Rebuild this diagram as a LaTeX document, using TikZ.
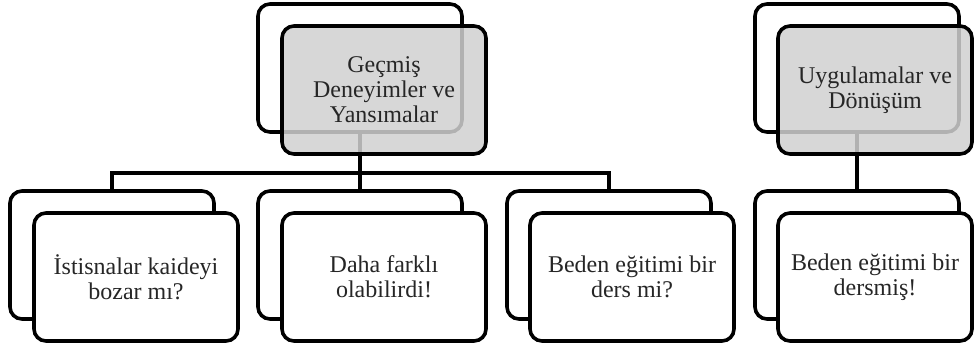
\documentclass[tikz,border=0pt]{standalone}
\usepackage{fontspec}
\setmainfont{Liberation Serif}
\begin{document}
\begin{tikzpicture}[x=1pt,y=-1pt,
  card/.style={draw=black, line width=3.6pt, rounded corners=12pt, rectangle,
    inner sep=0pt, minimum width=204pt, minimum height=128pt, fill=white},
  frontgray/.style={card, fill={rgb,255:red,208;green,208;blue,208}, fill opacity=0.85, text opacity=1},
  lbl/.style={align=center, font=\fontsize{24}{25}\selectfont, text=black!85},
  conn/.style={draw=black, line width=3.6pt}]
\useasboundingbox (0,0) rectangle (974,349);
% back cards
\node[card] (TAb) at (360,68) {};
\node[card] (TBb) at (857,68) {};
\node[card] (B1b) at (112,255) {};
\node[card] (B2b) at (360,255) {};
\node[card] (B3b) at (609,255) {};
\node[card] (BBb) at (857,255) {};
% connectors
\coordinate (bus) at (360,173);
\draw[conn] (TAb.south) -- (bus);
\draw[conn] (B1b.north) |- (bus) -| (B3b.north);
\draw[conn] (bus) -- (B2b.north);
\draw[conn] (TBb.south) -- (BBb.north);
% front cards
\node[frontgray] (TAf) at (384,90) {};
\node[frontgray, minimum width=194pt] (TBf) at (875,90) {};
\node[card] (B1f) at (136,277) {};
\node[card] (B2f) at (384,277) {};
\node[card] (B3f) at (632,277) {};
\node[card, minimum width=194pt] (BBf) at (875,277) {};
% labels
\node[lbl] (TAt) at (TAf.center) {Geçmiş\\Deneyimler ve\\Yansımalar};
\node[lbl] (TBt) at (TBf.center) {Uygulamalar ve\\Dönüşüm};
\node[lbl] (B1t) at (B1f.center) {İstisnalar kaideyi\\bozar mı?};
\node[lbl] (B2t) at (B2f.center) {Daha farklı\\olabilirdi!};
\node[lbl] (B3t) at (B3f.center) {Beden eğitimi bir\\ders mi?};
\node[lbl] (BBt) at (BBf.center) {Beden eğitimi bir\\dersmiş!};
\end{tikzpicture}
\end{document}
